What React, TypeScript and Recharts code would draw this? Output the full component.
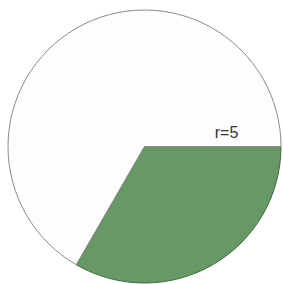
import { Cell, Pie, PieChart } from "recharts";

const sliceNames = ["r=5", "rest"];
const sliceValues = [1, 2];
const sliceFills = ["#669966", "#fdfdfd"];
const sliceStrokes = ["#3f6a3f", "#8a8a8a"];

const data = sliceNames.map((name, i) => ({ name, value: sliceValues[i] }));

// only the green slice carries a label, sat just above its top edge
const renderLabel = (props: any) => {
  if (props.index !== 0) return null;
  return (
    <text
      x={props.cx + 82}
      y={props.cy - 9}
      textAnchor="middle"
      fill="#333"
      fontSize={16}
      fontFamily="Liberation Sans, Arial, sans-serif"
    >
      {props.name}
    </text>
  );
};

export default function App() {
  return (
    <div style={{ position: "absolute", left: 0, top: 0, width: 283, height: 284 }}>
      <PieChart width={283} height={284} margin={{ top: 0, right: 0, bottom: 0, left: 0 }}>
        <Pie
          data={data}
          dataKey="value"
          nameKey="name"
          cx={144.5}
          cy={146.5}
          innerRadius={0}
          outerRadius={136.5}
          startAngle={0}
          endAngle={-360}
          paddingAngle={0}
          label={renderLabel}
          labelLine={false}
          isAnimationActive={false}
        >
          {data.map((d, i) => (
            <Cell key={d.name} fill={sliceFills[i]} stroke={sliceStrokes[i]} strokeWidth={1} />
          ))}
        </Pie>
      </PieChart>
    </div>
  );
}
